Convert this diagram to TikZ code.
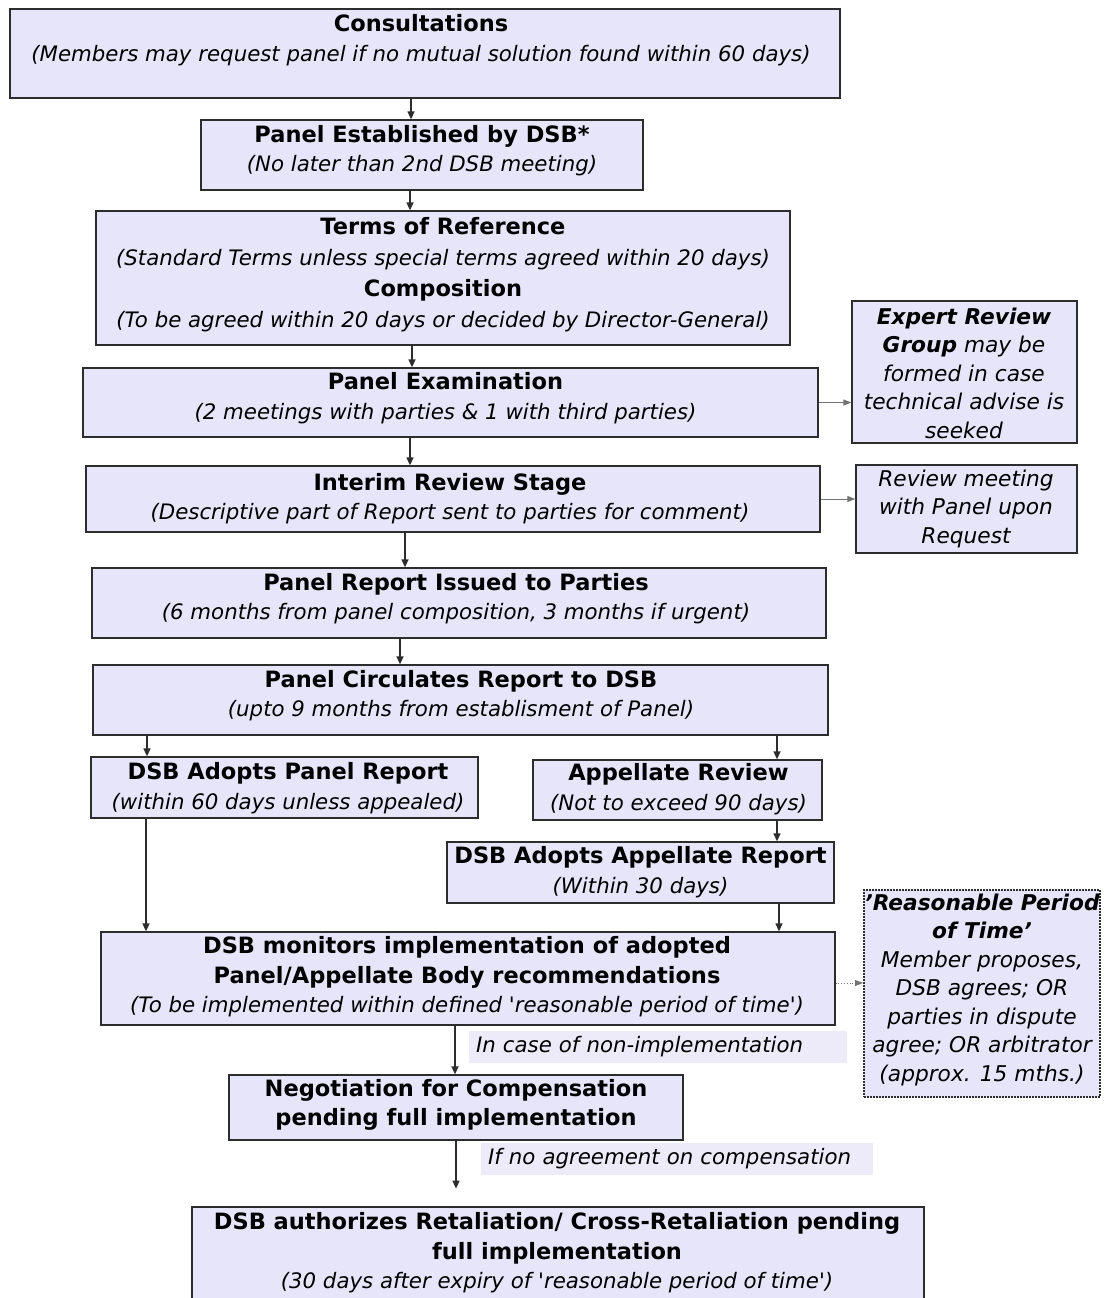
\documentclass[tikz,border=0pt]{standalone}
\usepackage{fontspec}
\setmainfont{DejaVu Sans}
\usetikzlibrary{arrows.meta}
\definecolor{boxfill}{RGB}{231,229,249}
\definecolor{lblfill}{RGB}{237,235,250}
\definecolor{edgec}{RGB}{45,45,45}
\newcommand\hdtx{\fontsize{22.5}{29.5}\selectfont\bfseries\upshape}
\newcommand\subtx{\fontsize{21.3}{29.5}\selectfont\itshape}
\newcommand\sidetx{\fontsize{21.7}{28.5}\selectfont\itshape}
\newcommand\qq{\textquotesingle}
\begin{document}
\begin{tikzpicture}[x=1pt,y=-1pt,
  box/.style={draw=edgec, line width=1.3pt, fill=boxfill, inner sep=0pt, rectangle},
  dbox/.style={draw=edgec, line width=2pt, dash pattern=on 1.6pt off 1.4pt, fill=boxfill, inner sep=0pt, rectangle},
  lbl/.style={fill=lblfill, draw=none, inner ysep=0pt, inner xsep=7pt, align=left, font=\subtx},
  txt/.style={align=center, inner sep=0pt, font=\subtx},
  stxt/.style={align=center, inner sep=0pt, font=\sidetx},
  arr/.style={draw=edgec, line width=1.3pt, -{Triangle[length=8pt,width=7pt]}},
  sarr/.style={draw=black!55, line width=0.8pt, -{Triangle[length=8pt,width=6pt]}},
  darr/.style={sarr, dotted}]
\useasboundingbox (0,0) rectangle (1103,1298);

% main boxes
\node[box, minimum width=830pt, minimum height=89pt] (c) at (425,53.5) {};
\node[txt] at (421,40) {{\hdtx Consultations}\\(Members may request panel if no mutual solution found within 60 days)};

\node[box, minimum width=442pt, minimum height=70pt] (pe) at (422,155) {};
\node[txt] at (422,150.5) {{\hdtx Panel Established by DSB*}\\(No later than 2nd DSB meeting)};

\node[box, minimum width=694pt, minimum height=134pt] (tr) at (443,278) {};
\node[txt] at (443,275) {{\hdtx Terms of Reference}\\[1.5pt](Standard Terms unless special terms agreed within 20 days)\\[1.5pt]{\hdtx Composition}\\[1.5pt](To be agreed within 20 days or decided by Director-General)};

\node[box, minimum width=735pt, minimum height=69pt] (ex) at (450.5,402.5) {};
\node[txt] at (445.5,398) {{\hdtx Panel Examination}\\(2 meetings with parties \& 1 with third parties)};

\node[box, minimum width=734pt, minimum height=66pt] (ir) at (453,499) {};
\node[txt] at (450,498.5) {{\hdtx Interim Review Stage}\\(Descriptive part of Report sent to parties for comment)};

\node[box, minimum width=734pt, minimum height=70pt] (ri) at (459,603) {};
\node[txt] at (456,598.5) {{\hdtx Panel Report Issued to Parties}\\(6 months from panel composition, 3 months if urgent)};

\node[box, minimum width=735pt, minimum height=70pt] (pc) at (460.5,700) {};
\node[txt] at (461,695.5) {{\hdtx Panel Circulates Report to DSB}\\(upto 9 months from establisment of Panel)};

\node[box, minimum width=387pt, minimum height=61pt] (ap) at (284.5,787.5) {};
\node[txt] at (288,788) {{\hdtx DSB Adopts Panel Report}\\(within 60 days unless appealed)};

\node[box, minimum width=289pt, minimum height=60pt] (ar) at (677.5,790) {};
\node[txt] at (678.5,789) {{\hdtx Appellate Review}\\(Not to exceed 90 days)};

\node[box, minimum width=387pt, minimum height=61pt] (aa) at (640.5,872.5) {};
\node[txt] at (640.5,872) {{\hdtx DSB Adopts Appellate Report}\\(Within 30 days)};

\node[box, minimum width=734pt, minimum height=93pt] (mo) at (468,978.5) {};
\node[txt] at (467,977) {{\hdtx DSB monitors implementation of adopted}\\{\hdtx Panel/Appellate Body recommendations}\\(To be implemented within defined \qq reasonable period of time\qq)};

\node[box, minimum width=454pt, minimum height=65pt] (ng) at (456,1107.5) {};
\node[txt] at (456,1105) {{\hdtx Negotiation for Compensation}\\{\hdtx pending full implementation}};

\node[box, minimum width=732pt, minimum height=130pt] (ra) at (558,1272) {};
\node[txt] at (557,1253) {{\hdtx DSB authorizes Retaliation/ Cross-Retaliation pending}\\{\hdtx full implementation}\\(30 days after expiry of \qq reasonable period of time\qq)};

% side boxes
\node[box, minimum width=225pt, minimum height=142pt] (er) at (964.5,372) {};
\node[stxt] at (964,373) {{\bfseries Expert Review}\\{\bfseries Group} may be\\formed in case\\technical advise is\\seeked};

\node[box, minimum width=221pt, minimum height=88pt] (rm) at (966.5,509) {};
\node[stxt] at (966,508.5) {Review meeting\\with Panel upon\\Request};

\node[dbox, minimum width=236pt, minimum height=207pt] (rp) at (982,993.5) {};
\node[stxt] at (982,990) {{\bfseries 'Reasonable Period}\\{\bfseries of Time'}\\Member proposes,\\DSB agrees; OR\\parties in dispute\\agree; OR arbitrator\\(approx. 15 mths.)};

% labels
\node[lbl, text width=364pt, minimum height=32pt] (l1) at (658,1047) {In case of non-implementation};
\node[lbl, text width=378pt, minimum height=32pt] (l2) at (677,1159) {If no agreement on compensation};

% connectors
\draw[arr] ([xshift=-14pt]c.south) -- ([xshift=-11pt]pe.north);
\draw[arr] ([xshift=-12pt]pe.south) -- ([xshift=-33pt]tr.north);
\draw[arr] ([xshift=-31pt]tr.south) -- ([xshift=-38.5pt]ex.north);
\draw[arr] ([xshift=-40.5pt]ex.south) -- ([xshift=-43pt]ir.north);
\draw[arr] ([xshift=-48pt]ir.south) -- ([xshift=-54pt]ri.north);
\draw[arr] ([xshift=-59pt]ri.south) -- ([xshift=-60.5pt]pc.north);
\draw[arr] ([xshift=-313.5pt]pc.south) -- ([xshift=-137.5pt]ap.north);
\draw[arr] ([xshift=316.5pt]pc.south) -- ([xshift=99.5pt]ar.north);
\draw[arr] ([xshift=99.5pt]ar.south) -- ([xshift=136.5pt]aa.north);
\draw[arr] ([xshift=138.5pt]aa.south) -- ([xshift=311pt]mo.north);
\draw[arr] ([xshift=-138.5pt]ap.south) -- ([xshift=-322pt]mo.north);
\draw[arr] ([xshift=-13pt]mo.south) -- ([xshift=-1pt]ng.north);
\coordinate (e) at ([yshift=-48pt]ng.south);
\draw[arr] (ng.south) -- (e);

\draw[sarr] (ex.east) -- (ex.east -| er.west);
\draw[sarr] (ir.east) -- (ir.east -| rm.west);
\coordinate (m1) at ([yshift=-4.5pt]mo.east);
\draw[darr] (m1) -- (m1 -| rp.west);
\end{tikzpicture}
\end{document}
